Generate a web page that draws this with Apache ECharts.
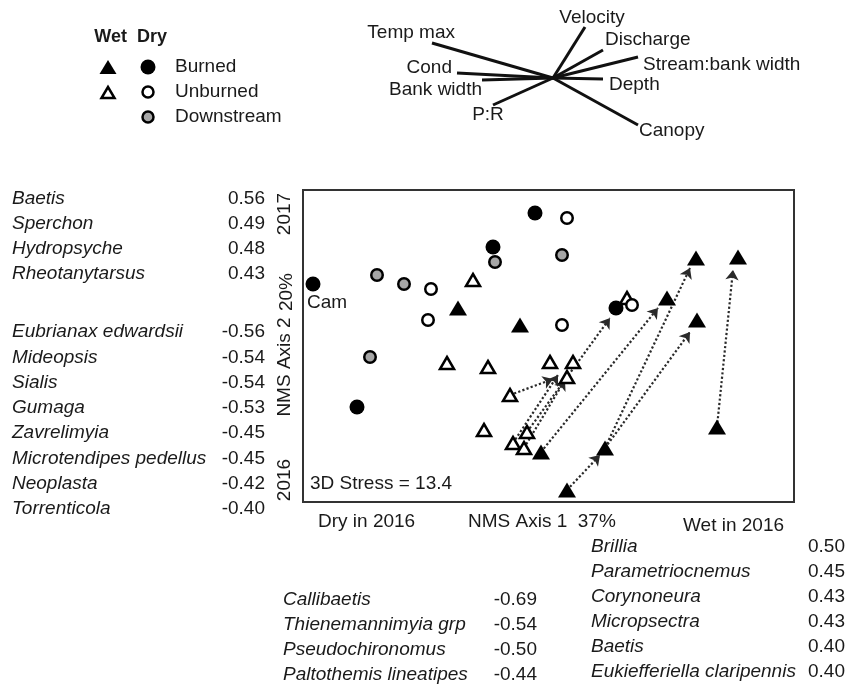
<!DOCTYPE html>
<html><head><meta charset="utf-8">
<script src="https://cdn.jsdelivr.net/npm/echarts@6/dist/echarts.min.js"></script>
<style>html,body{margin:0;padding:0;background:#fff}#c{width:848px;height:684px}</style>
</head><body><div id="c"></div>
<script>
// ---------------- data (NMS scores, arbitrary units) ----------------
const wetBurned = [[155,194],[217,177],[238,50],[264,12],[302,54],[364,204],[393,244],[435,245],[394,182],[414,75]];
const wetUnburned = [[170,222],[144,139],[185,135],[247,140],[270,140],[264,125],[207,107],[181,72],[224,70],[210,59],[221,54],[324,204]];
const dryBurned = [[10,218],[190,255],[232,289],[313,194],[54,95]];
const dryBurnedSites = ['Cam','','','',''];
const dryUnburned = [[128,213],[125,182],[264,284],[259,177],[329,197]];
const dryDownstream = [[74,227],[101,218],[192,240],[259,247],[67,145]];
// 2016 -> 2017 shifts (from, to)
const shiftFrom = [[207,107],[210,59],[221,54],[224,70],[238,50],[264,12],[302,54],[302,54],[414,75]];
const shiftTo   = [[250,123],[255,127],[262,122],[307,184],[355,194],[297,47],[387,234],[387,170],[430,232]];
// environmental vectors (biplot)
const vectorNames = ['Temp max','Velocity','Discharge','Stream:bank width','Depth','Canopy','Cond','Bank width','P:R'];
const vectorEnds = [[-121,35],[32,51],[50,28],[85,21],[50,-1],[85,-47],[-96,5],[-71,-2],[-60,-27]];
// species correlations
const axis2PosTaxa = ['Baetis','Sperchon','Hydropsyche','Rheotanytarsus'];
const axis2PosR = ['0.56','0.49','0.48','0.43'];
const axis2NegTaxa = ['Eubrianax edwardsii','Mideopsis','Sialis','Gumaga','Zavrelimyia','Microtendipes pedellus','Neoplasta','Torrenticola'];
const axis2NegR = ['-0.56','-0.54','-0.54','-0.53','-0.45','-0.45','-0.42','-0.40'];
const axis1NegTaxa = ['Callibaetis','Thienemannimyia grp','Pseudochironomus','Paltothemis lineatipes'];
const axis1NegR = ['-0.69','-0.54','-0.50','-0.44'];
const axis1PosTaxa = ['Brillia','Parametriocnemus','Corynoneura','Micropsectra','Baetis','Eukiefferiella claripennis'];
const axis1PosR = ['0.50','0.45','0.43','0.43','0.40','0.40'];

// ---------------- styling ----------------
const FF = '"Liberation Sans", Arial, sans-serif';
const FONT = '19px ' + FF;
const IFONT = 'italic 19px ' + FF;
const INK = '#1a1a1a';
const GRAY = '#a6a6a6';
const vecLabel = {
  'Temp max': {align:'right', off:[23,-10]},
  'Velocity': {align:'center', off:[7,-9]},
  'Discharge': {align:'left', off:[2,-10]},
  'Stream:bank width': {align:'left', off:[5,8]},
  'Depth': {align:'left', off:[6,6]},
  'Canopy': {align:'left', off:[1,6]},
  'Cond': {align:'right', off:[-5,-5]},
  'Bank width': {align:'right', off:[0,10]},
  'P:R': {align:'center', off:[-5,10]}
};

const graphic = [];
function txt(s, x, y, opt) {
  opt = opt || {};
  graphic.push({type:'text', x:x, y:y, rotation: opt.rot || 0, silent:true,
    style:{text:s, font: opt.font || FONT, fill: INK,
      textAlign: opt.align || 'left', textVerticalAlign:'middle'}});
}
function table(names, vals, xName, xVal, y0, step) {
  names.forEach((n,i)=>{ txt(n, xName, y0+i*step, {font:IFONT}); txt(vals[i], xVal, y0+i*step, {align:'right'}); });
}
table(axis2PosTaxa, axis2PosR, 12, 265, 199, 25);
table(axis2NegTaxa, axis2NegR, 12, 265, 332, 25.3);
table(axis1NegTaxa, axis1NegR, 283, 537, 600, 25);
table(axis1PosTaxa, axis1PosR, 591, 845, 547, 25);
// axis titles
txt('2017', 285, 214, {rot:Math.PI/2, align:'center'});
txt('20%', 287, 292, {rot:Math.PI/2, align:'center'});
txt('NMS Axis 2', 285, 367, {rot:Math.PI/2, align:'center'});
txt('2016', 285, 480, {rot:Math.PI/2, align:'center'});
txt('Dry in 2016', 318, 522);
txt('NMS Axis 1  37%', 468, 522);
txt('Wet in 2016', 683, 526);
txt('3D Stress = 13.4', 310, 484);
// legend
txt('Wet', 127, 37, {font:'bold 18px ' + FF, align:'right'});
txt('Dry', 137, 37, {font:'bold 18px ' + FF});
graphic.push({type:'polygon', shape:{points:[[99.5,74],[116.5,74],[108,60]]}, style:{fill:'#000'}});
graphic.push({type:'circle', shape:{cx:148, cy:67, r:7.5}, style:{fill:'#000'}});
graphic.push({type:'polygon', shape:{points:[[101.5,98],[114.5,98],[108,87]]}, style:{fill:'#fff', stroke:'#000', lineWidth:2.5}});
graphic.push({type:'circle', shape:{cx:148, cy:92, r:5.5}, style:{fill:'#fff', stroke:'#000', lineWidth:2.5}});
graphic.push({type:'circle', shape:{cx:148, cy:117, r:5.5}, style:{fill:GRAY, stroke:'#000', lineWidth:2.5}});
txt('Burned', 175, 67);
txt('Unburned', 175, 92);
txt('Downstream', 175, 117);

const chart = echarts.init(document.getElementById('c'));
chart.setOption({
  animation:false,
  backgroundColor:'#fff',
  grid:[
    {left:303, top:190, width:491, height:312, show:true, borderColor:'#333', borderWidth:2, backgroundColor:'transparent'},
    {left:353, top:0, width:400, height:156}
  ],
  xAxis:[
    {gridIndex:0, type:'value', min:0, max:491, show:false},
    {gridIndex:1, type:'value', min:-200, max:200, show:false}
  ],
  yAxis:[
    {gridIndex:0, type:'value', min:0, max:312, show:false},
    {gridIndex:1, type:'value', min:-78, max:78, show:false}
  ],
  graphic: graphic,
  series:[
    {type:'lines', coordinateSystem:'cartesian2d', xAxisIndex:0, yAxisIndex:0, z:1,
      symbol:['none','arrow'], symbolSize:10,
      lineStyle:{color:'#2a2a2a', width:2.2, type:'dotted', opacity:1},
      data: shiftFrom.map((f,i)=>({coords:[f, shiftTo[i]]}))},
    {type:'scatter', xAxisIndex:0, yAxisIndex:0, z:3, symbol:'triangle', symbolSize:[18,15],
      itemStyle:{color:'#000', opacity:1}, data: wetBurned},
    {type:'scatter', xAxisIndex:0, yAxisIndex:0, z:3, symbol:'triangle', symbolSize:[14,12],
      itemStyle:{color:'#fff', borderColor:'#000', borderWidth:2.5, opacity:1}, data: wetUnburned},
    {type:'scatter', xAxisIndex:0, yAxisIndex:0, z:4, symbol:'circle', symbolSize:15,
      itemStyle:{color:'#000', opacity:1},
      label:{show:true, position:'inside', offset:[14,19], formatter:p=>dryBurnedSites[p.dataIndex],
        fontFamily:FF, fontSize:19, color:INK},
      data: dryBurned},
    {type:'scatter', xAxisIndex:0, yAxisIndex:0, z:4, symbol:'circle', symbolSize:11.5,
      itemStyle:{color:'#fff', borderColor:'#000', borderWidth:2.5, opacity:1}, data: dryUnburned},
    {type:'scatter', xAxisIndex:0, yAxisIndex:0, z:4, symbol:'circle', symbolSize:11.5,
      itemStyle:{color:GRAY, borderColor:'#000', borderWidth:2.5, opacity:1}, data: dryDownstream},
    {type:'lines', coordinateSystem:'cartesian2d', xAxisIndex:1, yAxisIndex:1, z:2,
      lineStyle:{color:'#111', width:3, opacity:1},
      data: vectorEnds.map(e=>({coords:[[0,0], e]}))},
    {type:'scatter', xAxisIndex:1, yAxisIndex:1, z:3, symbolSize:0, itemStyle:{opacity:1},
      data: vectorEnds.map((e,i)=>({value:e, name:vectorNames[i],
        label:{show:true, position:'inside', align:vecLabel[vectorNames[i]].align, verticalAlign:'middle',
          offset:vecLabel[vectorNames[i]].off, formatter:vectorNames[i], fontFamily:FF, fontSize:19, color:INK}}))}
  ]
});
</script></body></html>
